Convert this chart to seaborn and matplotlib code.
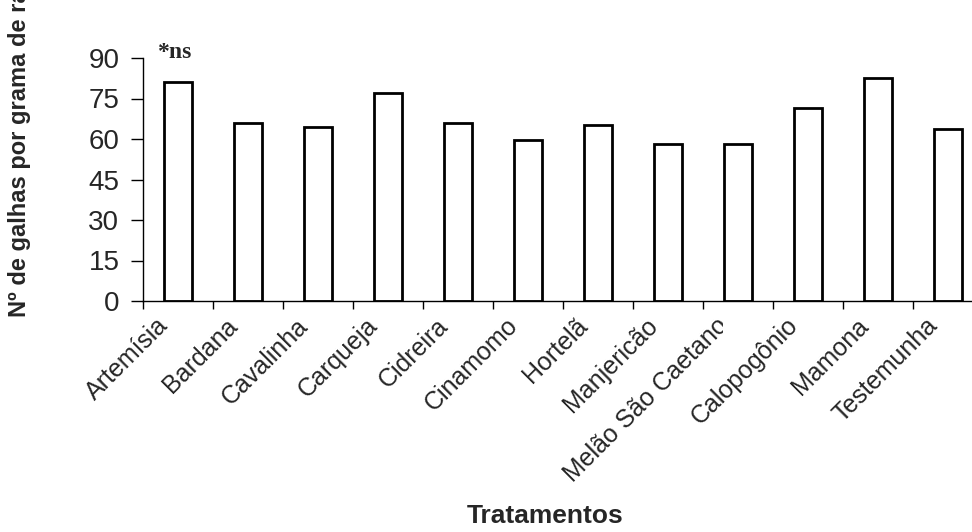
import matplotlib
matplotlib.use("Agg")
import matplotlib.pyplot as plt
import matplotlib.transforms as mtransforms
import numpy as np
import pandas as pd
import seaborn as sns

tratamentos = [
    "Artemísia", "Bardana", "Cavalinha", "Carqueja", "Cidreira", "Cinamomo",
    "Hortelã", "Manjericão", "Melão São Caetano", "Calopogônio", "Mamona",
    "Testemunha",
]
galhas = [81.1, 66.0, 64.5, 77.2, 66.0, 59.8, 65.2, 58.1, 58.1, 71.5, 82.6, 63.7]
y_ticks = [0, 15, 30, 45, 60, 75, 90]

sns.set_style("ticks")
plt.rcParams["font.family"] = ["Liberation Sans", "DejaVu Sans"]

data = pd.DataFrame({"tratamento": tratamentos, "galhas": galhas})

fig = plt.figure(figsize=(9.72, 5.32), dpi=100)
ax = fig.add_axes([143 / 972, 1 - 301 / 532, 840 / 972, (301 - 58) / 532])

sns.barplot(
    data=data, x="tratamento", y="galhas", color="white",
    edgecolor="black", linewidth=2.0, width=0.41, saturation=1, ax=ax,
)

ax.set_xlim(-0.5, 11.5)
ax.set_ylim(0, 90)
ax.set_yticks(y_ticks)
ax.tick_params(axis="y", labelsize=20, length=9, width=1, color="black", pad=8)
ax.set_xticks(range(len(tratamentos)))
ax.set_xticklabels(tratamentos, rotation=45, ha="right", va="top",
                   rotation_mode="anchor", fontsize=18)
ax.tick_params(axis="x", length=0, pad=9)
ax.set_xticks(np.arange(-0.5, 11.5, 1), minor=True)
ax.tick_params(axis="x", which="minor", length=6, width=1, color="black")
offset = mtransforms.ScaledTranslation(-16 / 72, 0, fig.dpi_scale_trans)
for lbl in ax.get_xticklabels():
    lbl.set_transform(lbl.get_transform() + offset)
    if lbl.get_text() == "Melão São Caetano":
        # the original label is cut short at its end
        lbl.set_clip_box(mtransforms.Bbox([[0, 0], [723, 532]]))
        lbl.set_clip_on(True)

for side in ["top", "right"]:
    ax.spines[side].set_visible(False)
for side in ["left", "bottom"]:
    ax.spines[side].set_color("black")
    ax.spines[side].set_linewidth(1)

ax.set_xlabel("")
ax.set_ylabel("")
fig.text(20 / 972, 1 - 317 / 532, "Nº de galhas por grama de raiz",
         rotation=90, ha="center", va="bottom", fontsize=17, fontweight="bold")
fig.text(545 / 972, 1 - 516 / 532, "Tratamentos", ha="center", va="center",
         fontsize=19, fontweight="bold")
ax.text(157 / 972, 1 - 53 / 532, "*ns", transform=fig.transFigure,
        ha="left", va="center", fontsize=17, fontweight="bold",
        family="Liberation Serif")

fig.savefig("out.png", dpi=100)
